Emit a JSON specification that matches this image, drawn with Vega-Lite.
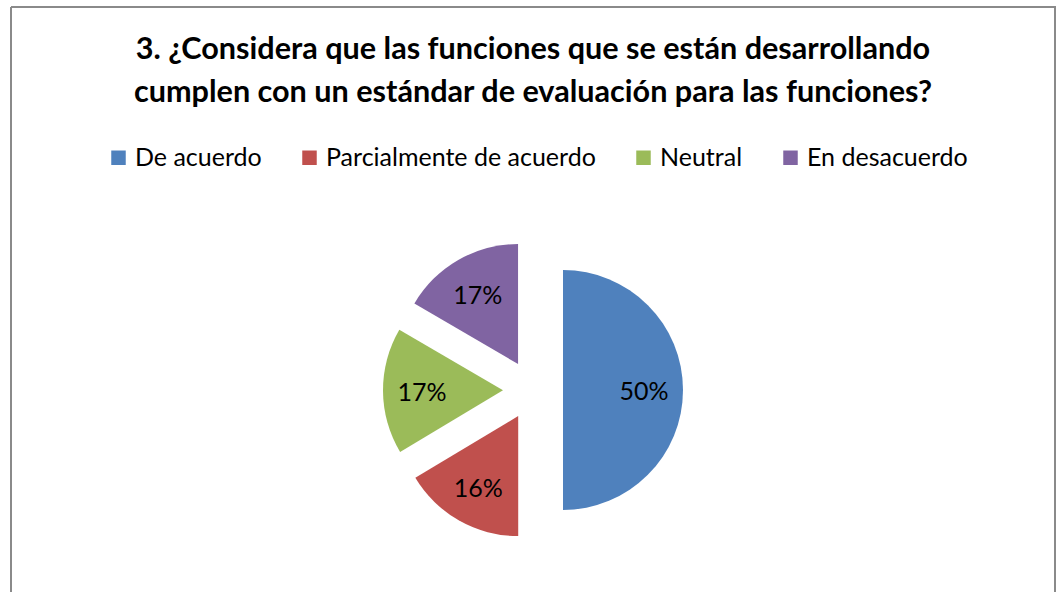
{
  "$schema": "https://vega.github.io/schema/vega-lite/v6.json",
  "width": 1044,
  "height": 585,
  "autosize": {"type": "none"},
  "padding": {"left": 11, "top": 7, "right": 4, "bottom": 0},
  "background": "white",
  "config": {
    "view": {"stroke": "#8a8a8a", "strokeWidth": 2, "strokeDash": [1629, 1044, 585, 0]},
    "font": "Lato"
  },
  "title": {
    "text": ["3. ¿Considera que las funciones que se están desarrollando", "cumplen con un estándar de evaluación para las funciones?"],
    "font": "Lato",
    "fontSize": 30.6,
    "fontWeight": "bold",
    "color": "#000000",
    "lineHeight": 43,
    "anchor": "middle",
    "offset": -102
  },
  "data": {
    "values": [
      {"cat": "De acuerdo", "v": 0.5, "o": 1},
      {"cat": "Parcialmente de acuerdo", "v": 0.164, "o": 2},
      {"cat": "Neutral", "v": 0.17, "o": 3},
      {"cat": "En desacuerdo", "v": 0.166, "o": 4}
    ]
  },
  "layer": [
    {
      "mark": {"type": "arc", "outerRadius": 120},
      "encoding": {
        "theta": {"field": "v", "type": "quantitative", "stack": true},
        "order": {"field": "o", "type": "quantitative"},
        "color": {
          "field": "cat",
          "type": "nominal",
          "scale": {
            "domain": ["De acuerdo", "Parcialmente de acuerdo", "Neutral", "En desacuerdo"],
            "range": ["#4F81BD", "#C0504D", "#9BBB59", "#8064A2"]
          },
          "legend": {
            "orient": "none",
            "legendX": 95,
            "legendY": 138,
            "direction": "horizontal",
            "title": null,
            "symbolType": "square",
            "symbolSize": 210,
            "symbolStrokeWidth": 0,
            "labelFontSize": 25,
            "labelFont": "Lato",
            "labelColor": "#000000",
            "labelLimit": 400,
            "columnPadding": 35,
            "labelOffset": 4,
            "padding": 0
          }
        },
        "x": {"value": {"expr": "width/2 + 30*sin(scale('theta', (datum.v_start + datum.v_end)/2))"}},
        "y": {"value": {"expr": "383 - 30*cos(scale('theta', (datum.v_start + datum.v_end)/2))"}}
      }
    },
    {
      "mark": {"type": "text", "radius": 111, "fontSize": 25, "font": "Lato", "color": "#000000"},
      "encoding": {
        "theta": {"field": "v", "type": "quantitative", "stack": true},
        "order": {"field": "o", "type": "quantitative"},
        "text": {"field": "v", "type": "quantitative", "format": ".0%"},
        "x": {"value": {"expr": "width/2"}},
        "y": {"value": 385}
      }
    }
  ]
}
